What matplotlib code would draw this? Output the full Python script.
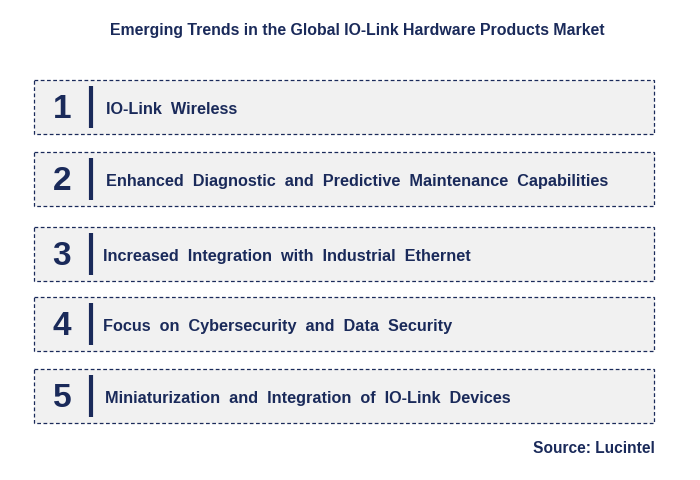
import matplotlib
matplotlib.use("Agg")
import matplotlib.pyplot as plt
from matplotlib.patches import Rectangle

title = "Emerging Trends in the Global IO-Link Hardware Products Market"
numbers = ["1", "2", "3", "4", "5"]
trends = [
    "IO-Link  Wireless",
    "Enhanced  Diagnostic  and  Predictive  Maintenance  Capabilities",
    "Increased  Integration  with  Industrial  Ethernet",
    "Focus  on  Cybersecurity  and  Data  Security",
    "Miniaturization  and  Integration  of  IO-Link  Devices",
]
source = "Source: Lucintel"

navy = "#1a2a5a"
fig = plt.figure(figsize=(7, 4.81), dpi=100)
ax = fig.add_axes([0, 0, 1, 1])
ax.set_xlim(0, 700)
ax.set_ylim(481, 0)
ax.axis("off")

ax.text(357, 30, title, ha="center", va="center", fontsize=11.4, fontweight="bold", color=navy, family="Liberation Sans")
tops = [81, 153, 228, 298, 370]
xs = [106, 106, 103, 103, 105]
h = 54
for n, t, y, x in zip(numbers, trends, tops, xs):
    ax.add_patch(Rectangle((34, y), 620, h, facecolor="#f1f1f1", edgecolor=navy, lw=0.9, ls=(0, (3, 2))))
    ax.text(62, y + h / 2 + 2, n, ha="center", va="center", fontsize=24, fontweight="bold", color=navy, family="Liberation Sans")
    ax.plot([91, 91], [y + 6, y + h - 6], color=navy, lw=3, solid_capstyle="butt")
    ax.text(x, y + h / 2 + 1.5, t, ha="left", va="center", fontsize=11.7, fontweight="bold", color=navy, family="Liberation Sans")
ax.text(655, 449, source, ha="right", va="center", fontsize=11.2, fontweight="bold", color=navy, family="Liberation Sans")
fig.savefig("out.png", dpi=100)
